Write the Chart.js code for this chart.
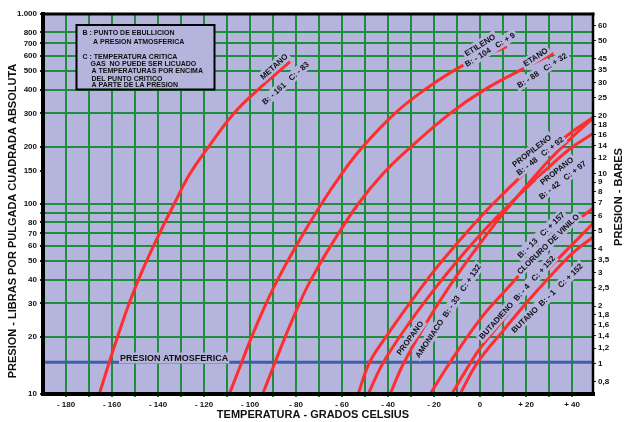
<!DOCTYPE html>
<html><head><meta charset="utf-8">
<script src="https://cdn.jsdelivr.net/npm/chart.js@4.4.1/dist/chart.umd.min.js"></script>
<style>html,body{margin:0;padding:0;background:#fff;}canvas{display:block}</style>
</head><body>
<canvas id="c" width="624" height="422"></canvas>
<script>
// ---- data (temperature °C, absolute pressure psi) ----
const metanoT = [-165.5, -161.2, -157, -153, -148.5, -142, -133, -126, -118, -107, -96.5, -82.6];
const metanoP = [10, 14.7, 21, 29, 40, 60, 100, 145, 200, 300, 400, 561];
const etilenoT = [-109, -103.6, -99.3, -93, -88, -80, -69, -60, -51, -37, -24, -7, 11.6];
const etilenoP = [10, 14.7, 20, 30, 40, 60, 100, 145, 200, 300, 400, 540, 673];
const etanoT = [-94.5, -89.1, -84.7, -78.5, -73.5, -65, -53, -42, -30, -13, 2, 18, 31.9];
const etanoP = [10, 14.7, 20, 30, 40, 60, 100, 145, 200, 300, 400, 510, 621];
const propilenoT = [-53, -48, -40, -30, -20, -10, 0, 10, 20, 30, 40, 49.1];
const propilenoP = [10, 14.7, 20.7, 30.7, 44.5, 62, 85, 113, 148, 190, 240, 285];
const propanoT = [-48.6, -42, -30, -20, -10, 0, 10, 20, 30, 40, 49.1];
const propanoP = [10, 14.7, 24.4, 35.4, 50, 68.7, 92, 121, 157, 199, 235];
const amoniacoT = [-39.1, -33, -20, -10, 0, 10, 20, 30, 40, 49.1];
const amoniacoP = [10, 14.7, 27.6, 42.2, 62, 89, 124, 170, 225, 283];
const cloruroVeniloT = [-21.7, -13, 0, 10, 20, 30, 40, 49.1];
const cloruroVeniloP = [10, 14.7, 24.7, 34, 46, 61, 78, 95];
const butadienoT = [-12.3, -4, 0, 10, 20, 30, 40, 49.1];
const butadienoP = [10, 14.7, 17.4, 24.5, 34.5, 46, 61, 79];
const butanoT = [-8.7, -1, 10, 20, 30, 40, 49.1];
const butanoP = [10, 14.7, 21.5, 30, 41, 54.8, 67];
const presionAtmosfericaPsi = 14.7;

// ---- axes ----
const xMin = -190, xMax = 49.1;
const xTicks = [-180,-170,-160,-150,-140,-130,-120,-110,-100,-90,-80,-70,-60,-50,-40,-30,-20,-10,0,10,20,30,40];
const psiTicks = [10,20,30,40,50,60,70,80,90,100,150,200,300,400,500,600,700,800,1000];
const psiTickLabels = ['10','20','30','40','50','60','70','80','','100','150','200','300','400','500','600','700','800','1.000'];
const psiGridValues = [20,30,40,50,60,70,80,90,100,200,300,400,500,600,700,800];
const PSI_PER_BAR = 14.5038;
const barTicks = [0.8,1,1.2,1.4,1.6,1.8,2,2.5,3,3.5,4,5,6,7,8,9,10,12,14,16,18,20,25,30,35,40,50,60];
const barTickLabels = ['0,8','1','1,2','1,4','1,6','1,8','2','2,5','3','3,5','4','5','6','7','8','9','10','12','14','16','18','20','25','30','35','45','50','60'];

// ---- styles ----
const BG = '#b4b4dc', GREEN = '#1f8c3e', RED = '#ff2d2d', BLUE = '#3f5eae';
const FONT = "'Liberation Sans', Arial, sans-serif";

const pts = (T, P) => T.map((t, i) => ({x: t, y: P[i]}));
const curve = (T, P) => ({data: pts(T, P), borderColor: RED, borderWidth: 3, pointRadius: 0,
  tension: 0.4, fill: false, order: 1, yAxisID: 'y'});

const curveLabels = [
  {t: 'METANO', x: 274, y: 66.5, a: -42},
  {t: 'B: - 161   C: - 83', x: 285.5, y: 83, a: -42},
  {t: 'ETILENO', x: 480, y: 45, a: -32},
  {t: 'B: - 104   C: + 9', x: 490, y: 49.5, a: -32},
  {t: 'ETANO', x: 535.5, y: 57, a: -33},
  {t: 'B: - 88   C: + 32', x: 542, y: 70.4, a: -33},
  {t: 'PROPILENO', x: 531.7, y: 150.8, a: -38},
  {t: 'B: - 48   C: + 92', x: 540, y: 156, a: -38},
  {t: 'PROPANO', x: 556.7, y: 170.8, a: -38},
  {t: 'B: - 42   C: + 97', x: 562.5, y: 180, a: -38},
  {t: 'B: - 13   C: + 157', x: 541, y: 235, a: -44},
  {t: 'CLORURO DE VINILO', x: 548, y: 244, a: -44},
  {t: 'BUTADIENO  B: - 4   C: + 152', x: 517, y: 297.5, a: -48},
  {t: 'BUTANO  B: - 1   C: + 152', x: 547, y: 298, a: -44},
  {t: 'AMONIACO  B: - 33   C: + 132', x: 448, y: 311, a: -56},
  {t: 'PROPANO', x: 410, y: 338, a: -54}
];
const legendLines = [
  {t: 'B : PUNTO DE EBULLICION', x: 82.5, y: 33.5},
  {t: 'A PRESION ATMOSFERICA', x: 93, y: 42.3},
  {t: 'C : TEMPERATURA CRITICA', x: 82.5, y: 57.3},
  {t: 'GAS  NO PUEDE SER LICUADO', x: 90.5, y: 64.3},
  {t: 'A TEMPERATURAS POR ENCIMA', x: 91.5, y: 71.3},
  {t: 'DEL PUNTO CRITICO', x: 91.5, y: 78.6},
  {t: 'A PARTE DE LA PRESION', x: 91.5, y: 85.4}
];

const bgPlugin = {
  id: 'bg',
  beforeDraw(chart) {
    const {ctx, chartArea: a} = chart;
    ctx.save();
    ctx.fillStyle = '#fff';
    ctx.fillRect(0, 0, chart.width, chart.height);
    ctx.fillStyle = BG;
    ctx.fillRect(a.left, a.top, a.right - a.left, a.bottom - a.top);
    ctx.restore();
  }
};

function haloText(ctx, t, x, y, a, font) {
  ctx.save();
  ctx.translate(x, y);
  ctx.rotate(a * Math.PI / 180);
  ctx.font = font;
  const w = ctx.measureText(t).width;
  ctx.fillStyle = BG;
  ctx.fillRect(-w / 2 - 2, -5.5, w + 4, 11);
  ctx.fillStyle = '#111';
  ctx.textAlign = 'center';
  ctx.textBaseline = 'middle';
  ctx.fillText(t, 0, 0.5);
  ctx.restore();
}

const overlayPlugin = {
  id: 'overlay',
  afterDatasetsDraw(chart) {
    const {ctx, chartArea: a} = chart;
    // legend box
    ctx.save();
    ctx.fillStyle = BG;
    ctx.fillRect(76.5, 25, 138, 64.5);
    ctx.strokeStyle = '#000';
    ctx.lineWidth = 2;
    ctx.strokeRect(76.5, 25, 138, 64.5);
    ctx.fillStyle = '#111';
    ctx.font = 'bold 7px ' + FONT;
    ctx.textBaseline = 'middle';
    ctx.textAlign = 'left';
    legendLines.forEach(l => ctx.fillText(l.t, l.x, l.y));
    ctx.restore();
    // curve labels
    curveLabels.forEach(l => haloText(ctx, l.t, l.x, l.y, l.a, 'bold 8px ' + FONT));
    // atmospheric pressure label
    ctx.save();
    ctx.font = 'bold 9px ' + FONT;
    const w = ctx.measureText('PRESION ATMOSFERICA').width;
    ctx.fillStyle = BG;
    ctx.fillRect(119, 352.5, w + 2, 11);
    ctx.fillStyle = '#111';
    ctx.textBaseline = 'middle';
    ctx.fillText('PRESION ATMOSFERICA', 120, 358.5);
    ctx.restore();
    // frame
    ctx.save();
    ctx.strokeStyle = '#000';
    ctx.lineCap = 'square';
    const line = (x1, y1, x2, y2, lw) => { ctx.lineWidth = lw; ctx.beginPath(); ctx.moveTo(x1, y1); ctx.lineTo(x2, y2); ctx.stroke(); };
    line(a.left, a.top, a.right, a.top, 3);
    line(a.right, a.top, a.right, a.bottom, 2.5);
    line(a.left, a.bottom, a.right, a.bottom, 4);
    line(a.left, a.top, a.left, a.bottom, 4);
    ctx.restore();
  },
  afterDraw(chart) {
    const {ctx} = chart;
    ctx.save();
    ctx.fillStyle = '#111';
    ctx.font = 'bold 11px ' + FONT;
    ctx.textAlign = 'center';
    ctx.textBaseline = 'middle';
    ctx.fillText('TEMPERATURA - GRADOS CELSIUS', 313, 415);
    ctx.save();
    ctx.translate(13, 221);
    ctx.rotate(-Math.PI / 2);
    ctx.fillText('PRESION - LIBRAS POR PULGADA CUADRADA ABSOLUTA', 0, 0);
    ctx.restore();
    ctx.save();
    ctx.translate(619, 197);
    ctx.rotate(-Math.PI / 2);
    ctx.fillText('PRESION - BARES', 0, 0);
    ctx.restore();
    ctx.restore();
  }
};

const tickFont = {family: FONT, size: 8, weight: 'bold'};

new Chart(document.getElementById('c'), {
  type: 'line',
  data: {
    datasets: [
      curve(metanoT, metanoP),
      curve(etilenoT, etilenoP),
      curve(etanoT, etanoP),
      curve(propilenoT, propilenoP),
      curve(propanoT, propanoP),
      curve(amoniacoT, amoniacoP),
      curve(cloruroVeniloT, cloruroVeniloP),
      curve(butadienoT, butadienoP),
      curve(butanoT, butanoP),
      {data: [{x: xMin, y: presionAtmosfericaPsi}, {x: xMax, y: presionAtmosfericaPsi}],
       borderColor: BLUE, borderWidth: 3, pointRadius: 0, order: 5, yAxisID: 'y'}
    ]
  },
  options: {
    responsive: false,
    animation: false,
    devicePixelRatio: 1,
    layout: {padding: {top: 14, left: 0, right: 0, bottom: 0}},
    plugins: {legend: {display: false}, tooltip: {enabled: false}},
    scales: {
      x: {
        type: 'linear', min: xMin, max: xMax, position: 'bottom',
        afterBuildTicks: s => { s.ticks = xTicks.map(v => ({value: v})); },
        afterFit: s => { s.height = 28; },
        border: {display: false},
        grid: {color: GREEN, lineWidth: 2, drawTicks: true, tickLength: 3, tickColor: GREEN},
        ticks: {autoSkip: false, maxRotation: 0, padding: 3, color: '#111', font: tickFont,
          callback: v => (v % 20 !== 0) ? '' : (v === 0 ? '0' : (v < 0 ? '- ' + (-v) : '+ ' + v))}
      },
      y: {
        type: 'logarithmic', position: 'left', min: 10, max: 1000,
        afterBuildTicks: s => { s.ticks = psiTicks.map(v => ({value: v})); },
        afterFit: s => { s.width = 43; },
        border: {display: false},
        grid: {color: c => psiGridValues.includes(c.tick && c.tick.value) ? GREEN : 'rgba(0,0,0,0)',
               lineWidth: 2, drawTicks: true, tickLength: 3,
               tickColor: c => (c.tick && c.tick.value === 90) ? GREEN : '#222'},
        ticks: {autoSkip: false, padding: 3, color: '#111', font: tickFont,
          callback: (v, i) => psiTickLabels[i]}
      },
      y2: {
        type: 'logarithmic', position: 'right', min: 10 / PSI_PER_BAR, max: 1000 / PSI_PER_BAR,
        afterBuildTicks: s => { s.ticks = barTicks.map(v => ({value: v})); },
        afterFit: s => { s.width = 31; },
        border: {display: false},
        grid: {drawOnChartArea: false, drawTicks: true, tickLength: 3, tickColor: '#222', lineWidth: 1},
        ticks: {autoSkip: false, padding: 2, color: '#111', font: tickFont,
          callback: (v, i) => barTickLabels[i]}
      }
    }
  },
  plugins: [bgPlugin, overlayPlugin]
});
</script>
</body></html>
